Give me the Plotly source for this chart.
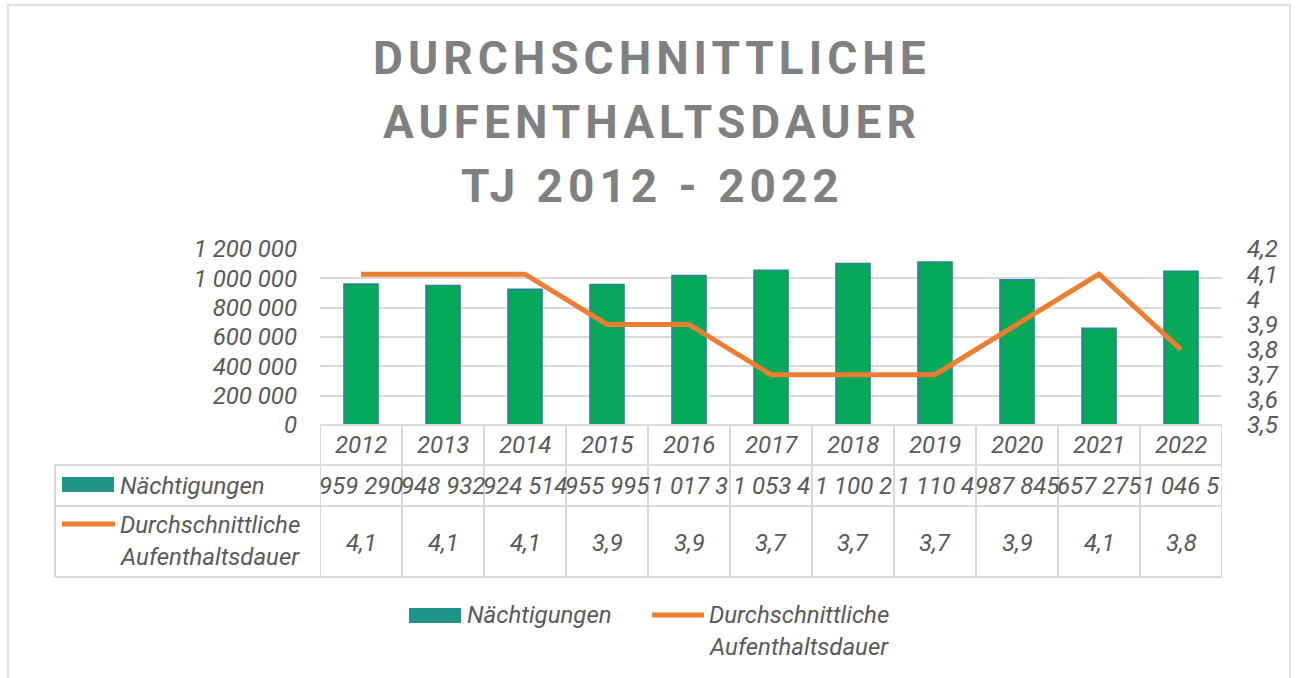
import plotly.graph_objects as go

# ---- data ----
years = ["2012", "2013", "2014", "2015", "2016", "2017", "2018", "2019", "2020", "2021", "2022"]
naechtigungen = [959290, 948932, 924514, 955995, 1017300, 1053400, 1100200, 1110400, 987845, 657275, 1046500]
aufenthalt = [4.1, 4.1, 4.1, 3.9, 3.9, 3.7, 3.7, 3.7, 3.9, 4.1, 3.8]
title_lines = ["DURCHSCHNITTLICHE", "AUFENTHALTSDAUER", "TJ 2012 - 2022"]
left_ticks = [0, 200000, 400000, 600000, 800000, 1000000, 1200000]
right_ticks = [3.5, 3.6, 3.7, 3.8, 3.9, 4.0, 4.1, 4.2]
name_bar = "Nächtigungen"
name_line_parts = ["Durchschnittliche", "Aufenthaltsdauer"]

# ---- geometry helpers (pixel -> paper) ----
W, H = 1297, 678
PL, PR, PT, PB = 320, 1222, 249, 425
def px(x):
    return (x - PL) / (PR - PL)
def py(y):
    return (PB - y) / (PB - PT)

TEXT = "#595959"
GRID = "#d9d9d9"
FONT = "Roboto"
tfont = dict(family=FONT, size=24, color=TEXT, style="italic")

fig = go.Figure()
fig.add_trace(go.Bar(
    x=years, y=naechtigungen, name=name_bar, width=0.41,
    marker=dict(color="#06A95A", line=dict(color="#24898A", width=2)),
    showlegend=False,
))
fig.add_trace(go.Scatter(
    x=years, y=aufenthalt, name=" ".join(name_line_parts), yaxis="y2", mode="lines",
    line=dict(color="#ED7D31", width=5),
    showlegend=False,
))

shapes = []
ann = []

# outer chart border
shapes.append(dict(type="rect", xref="paper", yref="paper",
                   x0=px(8), x1=px(1290), y0=py(690), y1=py(5),
                   line=dict(color=GRID, width=1.5), fillcolor="rgba(0,0,0,0)", layer="below"))

# data table lines
for yy in [465, 506, 577]:
    shapes.append(dict(type="line", xref="paper", yref="paper",
                       x0=px(55), x1=px(PR), y0=py(yy), y1=py(yy),
                       line=dict(color=GRID, width=2)))
shapes.append(dict(type="line", xref="paper", yref="paper",
                   x0=px(PL), x1=px(PR), y0=py(PB), y1=py(PB),
                   line=dict(color=GRID, width=2)))
shapes.append(dict(type="line", xref="paper", yref="paper",
                   x0=px(55), x1=px(55), y0=py(465), y1=py(577),
                   line=dict(color=GRID, width=2)))
for i in range(len(years) + 1):
    shapes.append(dict(type="line", xref="x", yref="paper",
                       x0=i - 0.5, x1=i - 0.5, y0=py(425), y1=py(577),
                       line=dict(color=GRID, width=2)))

# table contents
for i, yr in enumerate(years):
    ann.append(dict(x=i, xref="x", y=py(445), yref="paper", text=yr,
                    showarrow=False, font=tfont, xanchor="center", yanchor="middle"))
    s = f"{naechtigungen[i]:,}".replace(",", " ")[:7]
    ann.append(dict(x=i, xref="x", y=py(486), yref="paper", text=s,
                    showarrow=False, font=tfont, xanchor="center", yanchor="middle"))
    v = f"{aufenthalt[i]:.1f}".replace(".", ",")
    ann.append(dict(x=i, xref="x", y=py(543), yref="paper", text=v,
                    showarrow=False, font=tfont, xanchor="center", yanchor="middle"))

# table legend keys
shapes.append(dict(type="rect", xref="paper", yref="paper",
                   x0=px(62), x1=px(114), y0=py(492), y1=py(477),
                   fillcolor="#1F9488", line=dict(width=0)))
ann.append(dict(x=px(118), xref="paper", y=py(486), yref="paper", text=name_bar,
                showarrow=False, font=tfont, xanchor="left", yanchor="middle"))
shapes.append(dict(type="line", xref="paper", yref="paper",
                   x0=px(62), x1=px(115), y0=py(524), y1=py(524),
                   line=dict(color="#ED7D31", width=5)))
for part, yc in zip(name_line_parts, [525, 557]):
    ann.append(dict(x=px(118), xref="paper", y=py(yc), yref="paper", text=part,
                    showarrow=False, font=tfont, xanchor="left", yanchor="middle"))

# bottom legend
shapes.append(dict(type="rect", xref="paper", yref="paper",
                   x0=px(409), x1=px(461), y0=py(623), y1=py(608),
                   fillcolor="#1F9488", line=dict(width=0)))
ann.append(dict(x=px(465), xref="paper", y=py(615), yref="paper", text=name_bar,
                showarrow=False, font=tfont, xanchor="left", yanchor="middle"))
shapes.append(dict(type="line", xref="paper", yref="paper",
                   x0=px(652), x1=px(704), y0=py(615), y1=py(615),
                   line=dict(color="#ED7D31", width=5)))
for part, yc in zip(name_line_parts, [615, 647]):
    ann.append(dict(x=px(707), xref="paper", y=py(yc), yref="paper", text=part,
                    showarrow=False, font=tfont, xanchor="left", yanchor="middle"))

# title lines
for t, yc in zip(title_lines, [58, 122, 186]):
    ann.append(dict(x=px(652), xref="paper", y=py(yc), yref="paper",
                    text=f'<span style="letter-spacing:5px">{t}</span>',
                    showarrow=False, xanchor="center", yanchor="middle",
                    font=dict(family=FONT, size=46, color="#808080", weight="bold")))

fig.update_layout(
    width=W, height=H,
    margin=dict(l=PL, r=W - PR, t=PT, b=H - PB, pad=0),
    paper_bgcolor="white", plot_bgcolor="white",
    separators=", ",
    showlegend=False,
    shapes=shapes, annotations=ann,
    xaxis=dict(type="category", range=[-0.5, len(years) - 0.5], showticklabels=False,
               showgrid=False, showline=False, zeroline=False, ticks=""),
    yaxis=dict(range=[0, 1200000], tickvals=left_ticks, tickformat=",d", showgrid=True,
               gridcolor=GRID, gridwidth=1.5, zeroline=False, showline=False, ticks="",
               tickfont=tfont, ticklabelstandoff=22),
    yaxis2=dict(range=[3.5, 4.2], tickvals=right_ticks, overlaying="y", side="right",
                showgrid=False, zeroline=False, showline=False, ticks="",
                tickfont=tfont, ticklabelstandoff=24),
    font=dict(family=FONT, color=TEXT),
)

fig.write_html("out.html", config={"displayModeBar": False},
               post_script="document.body.style.margin='0';document.body.style.overflow='hidden';")
